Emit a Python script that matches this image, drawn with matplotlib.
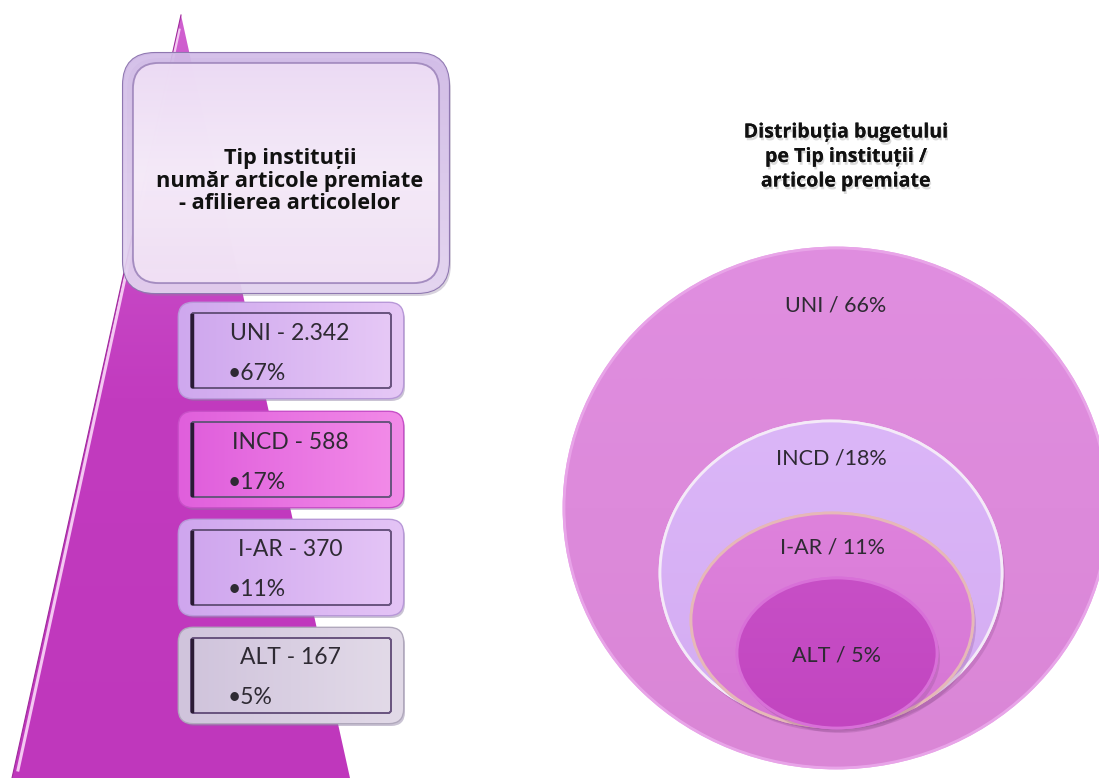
import numpy as np
import matplotlib.pyplot as plt
from matplotlib.patches import FancyBboxPatch, Ellipse, Polygon
from matplotlib.colors import LinearSegmentedColormap
from matplotlib.transforms import Affine2D
import matplotlib.patheffects as pe

# date
categorii = ['UNI', 'INCD', 'I-AR', 'ALT']
articole = ['2.342', '588', '370', '167']
procent_articole = [67, 17, 11, 5]
procent_buget = [66, 18, 11, 5]
separatori_buget = [' / ', ' /', ' / ', ' / ']

titlu_stanga = 'Tip instituții\nnumăr articole premiate\n- afilierea articolelor'
titlu_dreapta = 'Distribuția bugetului\npe Tip instituții /\narticole premiate'

W, H = 1099, 778
fig = plt.figure(figsize=(W / 100, H / 100), dpi=100)
ax = fig.add_axes([0, 0, 1, 1])
ax.axis('off')

bold = ['Open Sans', 'DejaVu Sans']
subtire = ['Lato', 'DejaVu Sans']


def gradient(patch, culori, vertical=False, alpha=1.0, z=2):
    ax.add_patch(patch)
    ext = patch.get_extents().transformed(ax.transData.inverted())
    x0, x1 = sorted([ext.x0, ext.x1])
    y0, y1 = sorted([ext.y0, ext.y1])
    g = np.linspace(0, 1, 256)
    img = g.reshape(-1, 1) if vertical else g.reshape(1, -1)
    cm = LinearSegmentedColormap.from_list('g', culori)
    im = ax.imshow(img, cmap=cm, extent=(x0, x1, y1, y0), origin='upper',
                   aspect='auto', alpha=alpha, zorder=z, interpolation='bicubic')
    im.set_clip_path(patch)
    return im


def potriveste(t, latime):
    # ajusteaza marimea fontului ca textul sa aiba latimea dorita (px)
    r = fig.canvas.get_renderer()
    bb = t.get_window_extent(r)
    t.set_fontsize(t.get_fontsize() * latime / bb.width)


ax.set_xlim(0, W)
ax.set_ylim(H, 0)

# triunghiul din stanga
tri = Polygon([[181, 15], [12, 778], [350, 778]], closed=True,
              facecolor='none', edgecolor='none', zorder=1)
gradient(tri, ['#d060d0', '#c23bbf', '#bf37bc'], vertical=True, z=1)
ax.plot([179, 18], [30, 770], color='#f4c8f2', lw=2.2, zorder=1.5)
ax.plot([181, 12], [15, 778], color='#a02a9c', lw=0.8, zorder=1.5)

# caseta de titlu
umbra = FancyBboxPatch((127, 58), 324, 238, boxstyle='round,pad=0,rounding_size=32',
                       facecolor='#9080a0', edgecolor='none', alpha=0.35, zorder=2)
ax.add_patch(umbra)
cas = FancyBboxPatch((123, 53), 326, 240, boxstyle='round,pad=0,rounding_size=32',
                     facecolor='none', edgecolor='#8f78b0', lw=1.5, zorder=3)
gradient(cas, ['#d2bce8', '#e6d6f2'], vertical=True, alpha=0.92, z=3)
cas_int = FancyBboxPatch((133, 63), 306, 220, boxstyle='round,pad=0,rounding_size=26',
                         facecolor='none', edgecolor='#b8a2d0', lw=1.5, zorder=4)
gradient(cas_int, ['#f0dff6', '#f8eefa', '#f2e2f5'], vertical=True, alpha=0.9, z=4)
ax.add_patch(FancyBboxPatch((133, 63), 306, 220, boxstyle='round,pad=0,rounding_size=26',
                            facecolor='none', edgecolor='#a48cc0', lw=1.2, zorder=4.5))
t1 = ax.text(290, 181, titlu_stanga, ha='center', va='center', fontsize=13,
             fontweight='bold', family=bold, color='#111111', linespacing=1.12, zorder=5)
potriveste(t1, 266)

# casetele cu valori
culori_casete = [('#cfa8ee', '#e6c8f6'), ('#e05fdc', '#f28ae8'),
                 ('#cfa6ee', '#e4c4f6'), ('#d0c4dc', '#e2dae8')]
margini = ['#b898d8', '#c850c8', '#b898d8', '#b0a8bc']
y_sus = [303, 412, 520, 628]
h_caseta = 95
for i, cat in enumerate(categorii):
    y = y_sus[i]
    ext_c = FancyBboxPatch((179, y), 224, h_caseta, boxstyle='round,pad=0,rounding_size=14',
                           facecolor='#8a7aa0', edgecolor='none', alpha=0.45, zorder=5)
    ext_c.set_transform(ax.transData + Affine2D().translate(2, -3))
    ax.add_patch(ext_c)
    cc = FancyBboxPatch((179, y), 224, h_caseta, boxstyle='round,pad=0,rounding_size=14',
                        facecolor='none', edgecolor=margini[i], lw=2, zorder=6)
    gradient(cc, [culori_casete[i][0], culori_casete[i][1]], z=6)
    ci = FancyBboxPatch((191, y + 10), 200, h_caseta - 20, boxstyle='round,pad=0,rounding_size=3',
                        facecolor='none', edgecolor='#6a5580', lw=1.3, zorder=7)
    gradient(ci, [culori_casete[i][0], culori_casete[i][1]], z=6.5)
    ax.add_patch(ci)
    ax.plot([192, 192], [y + 12, y + h_caseta - 12], color='#2a1a35', lw=2.5, zorder=7.5)
    ax.text(290, y + 30, f'{cat} - {articole[i]}', ha='center', va='center',
            fontsize=16.5, family=subtire, color='#2e2a33', zorder=8)
    ax.text(228, y + 70, f'•{procent_articole[i]}%', ha='left', va='center',
            fontsize=16.5, family=subtire, color='#2e2a33', zorder=8)

# titlul din dreapta
t2 = ax.text(846, 157, titlu_dreapta, ha='center', va='center', fontsize=12,
             fontweight='bold', family=bold, color='#111111', linespacing=1.3, zorder=5,
             path_effects=[pe.withSimplePatchShadow(offset=(1, -2), shadow_rgbFace='#888888', alpha=0.3),
                           pe.Normal()])
potriveste(t2, 205)

# cercurile din dreapta
elipse = [(836, 508, 544, 520), (831, 573, 342, 304), (832, 620, 282, 214), (837, 653, 200, 150)]
culori_elipse = [('#e08ee0', '#da86d6'), ('#dbb6f8', '#d4acf2'),
                 ('#de82dc', '#d676d4'), ('#c74fc6', '#c245c0')]
margini_elipse = ['#e8a4e8', '#f4eaf8', '#e6b8b8', '#d870d8']
y_text = [305, 458, 548, 655]
for i, (cx, cy, w, h) in enumerate(elipse):
    if i > 0:
        sh = Ellipse((cx + 3, cy + 5), w, h, facecolor='#8a4a8a', edgecolor='none',
                     alpha=0.25, zorder=10 + 2 * i - 0.5)
        ax.add_patch(sh)
    e = Ellipse((cx, cy), w, h, facecolor='none', edgecolor=margini_elipse[i], lw=2,
                zorder=10 + 2 * i)
    gradient(e, [culori_elipse[i][0], culori_elipse[i][1]], vertical=True, z=10 + 2 * i)
    ax.add_patch(Ellipse((cx, cy), w, h, facecolor='none', edgecolor=margini_elipse[i],
                         lw=2, zorder=10 + 2 * i + 0.1))
    ax.text(cx, y_text[i], f'{categorii[i]}{separatori_buget[i]}{procent_buget[i]}%',
            ha='center', va='center', fontsize=15.5, family=subtire,
            color='#2e2a33', zorder=20)

ax.set_xlim(0, W)
ax.set_ylim(H, 0)
fig.savefig('out.png', dpi=100, facecolor='white')
